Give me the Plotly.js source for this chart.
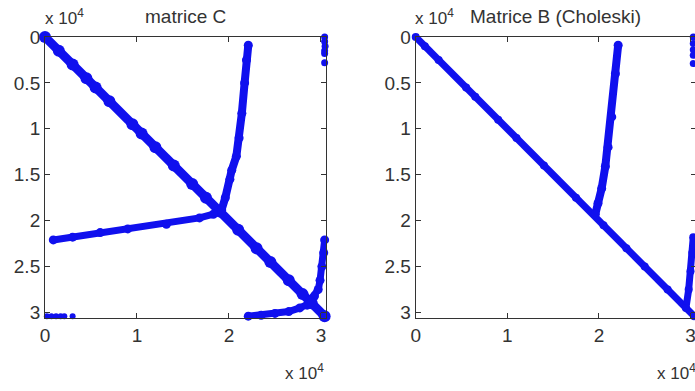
<!DOCTYPE html>
<html>
<head>
<meta charset="utf-8">
<script src="https://cdn.plot.ly/plotly-3.0.1.min.js"></script>
<style>
  body { margin: 0; overflow: hidden; background: #fff; }
  #chart { width: 700px; height: 391px; }
</style>
</head>
<body>
<div id="chart"></div>
<script>
// matrix size and tick labels (x 10^4)
const n = 30600;
const xTickVals = [0, 10000, 20000, 30000];
const xTickText = ['0', '1', '2', '3'];
const yTickVals = [0, 5000, 10000, 15000, 20000, 25000, 30000];
const yTickText = ['0', '0.5', '1', '1.5', '2', '2.5', '3'];

// --- matrice C : nonzero structure (column, row) ---
const cDiagCol = [0, 1500, 3000, 4500, 5500, 7000, 9500, 10500, 12000, 14000, 16000, 17500, 19000, 21000, 23000, 24500, 26500, 28000, 29000, 30400];
const cDiagRow = [0, 1500, 3000, 4500, 5500, 7000, 9500, 10500, 12000, 14000, 16000, 17500, 19000, 21000, 23000, 24500, 26500, 28000, 29000, 30400];
const cVertCol = [22100, 21900, 21700, 21400, 21100, 20800, 20300, 20100, 19600, 19200];
const cVertRow = [900, 2500, 5000, 8300, 11000, 13000, 14500, 15500, 17500, 18800];
const cHorizCol = [900, 3000, 6000, 9000, 13200, 16800, 18300, 19200];
const cHorizRow = [22100, 21800, 21300, 20900, 20400, 19700, 19300, 18900];
const cTopCol = [30400, 30400, 30450, 30400, 30400, 30400];
const cTopRow = [0, 500, 1000, 1500, 1800, 2800];
const cSideCol = [30400, 30300, 30100, 29900, 29700, 29300, 28800];
const cSideRow = [22100, 23500, 25000, 26500, 27500, 28200, 28700];
const cLowCol = [22100, 23500, 25000, 26500, 27700, 28500, 29000];
const cLowRow = [30400, 30300, 30100, 29900, 29500, 29200, 28900];
const cCornerCol = [200, 700, 1200, 1700, 2100, 3000];
const cCornerRow = [30400, 30400, 30400, 30400, 30400, 30400];

// --- Matrice B (Choleski) ---
const bDiagCol = [0, 1000, 2500, 5500, 6500, 9000, 11000, 14000, 17500, 20500, 23000, 25000, 27500, 30400];
const bDiagRow = [0, 1000, 2500, 5500, 6500, 9000, 11000, 14000, 17500, 20500, 23000, 25000, 27500, 30400];
const bVertCol = [22100, 21800, 21400, 21000, 20700, 20300, 19900, 19600];
const bVertRow = [900, 4000, 8700, 12000, 14100, 16500, 18100, 19300];
const bTopCol = [30300, 30300, 30300, 30300, 30300];
const bTopRow = [0, 700, 1400, 2000, 2900];
const bSideCol = [30300, 30200, 30000, 29800, 29500];
const bSideRow = [21800, 23500, 25500, 27500, 29500];

const blue = '#1010ee';
const font = 'Liberation Sans, Arial, sans-serif';

function band(cols, rows, w, m, ax) {
  return {
    x: cols, y: rows, xaxis: ax[0], yaxis: ax[1],
    mode: 'lines+markers',
    line: { color: blue, width: w },
    marker: { color: blue, size: m },
    cliponaxis: false, hoverinfo: 'skip',
  };
}
function dots(cols, rows, s, ax) {
  return {
    x: cols, y: rows, xaxis: ax[0], yaxis: ax[1],
    mode: 'markers', marker: { color: blue, size: s },
    cliponaxis: false, hoverinfo: 'skip',
  };
}

const L = ['x', 'y'], R = ['x2', 'y2'];
const data = [
  band(cDiagCol, cDiagRow, 9, 12, L),
  band(cVertCol, cVertRow, 8, 9, L),
  band(cHorizCol, cHorizRow, 7, 9, L),
  dots(cTopCol, cTopRow, 7, L),
  band(cSideCol, cSideRow, 7, 9, L),
  band(cLowCol, cLowRow, 7, 9, L),
  dots(cCornerCol, cCornerRow, 6, L),
  band(bDiagCol, bDiagRow, 7, 8, R),
  band(bVertCol, bVertRow, 8, 9, R),
  dots(bTopCol, bTopRow, 7, R),
  band(bSideCol, bSideRow, 7, 8, R),
];

const xaxisBase = {
  range: [0, n], tickvals: xTickVals, ticktext: xTickText,
  ticks: 'inside', ticklen: 5, tickcolor: '#333', mirror: 'ticks',
  showline: true, linecolor: '#333', linewidth: 1,
  showgrid: false, zeroline: false,
  tickfont: { family: font, size: 19, color: '#333' },
  fixedrange: true,
};
const yaxisBase = Object.assign({}, xaxisBase, {
  range: [n, 0], tickvals: yTickVals, ticktext: yTickText,
  domain: [0.1867, 0.9054],
});

const ann = (text, x, y, xa, size) => ({
  text: text, x: x, y: y, xref: 'paper', yref: 'paper',
  xanchor: xa, yanchor: 'middle', showarrow: false,
  font: { family: font, size: size, color: '#333' },
});

const layout = {
  width: 700, height: 391,
  margin: { l: 0, r: 0, t: 0, b: 0 },
  paper_bgcolor: '#fff', plot_bgcolor: '#fff',
  showlegend: false,
  xaxis: Object.assign({}, xaxisBase, { domain: [0.0643, 0.4664], anchor: 'y' }),
  yaxis: Object.assign({}, yaxisBase, { anchor: 'x' }),
  xaxis2: Object.assign({}, xaxisBase, { domain: [0.5939, 0.9943], anchor: 'y2' }),
  yaxis2: Object.assign({}, yaxisBase, { anchor: 'x2' }),
  annotations: [
    ann('matrice C', 185 / 700, 1 - 17 / 391, 'center', 19),
    ann('Matrice B (Choleski)', 555 / 700, 1 - 17 / 391, 'center', 19),
    ann('x 10<sup>4</sup>', 43 / 700, 1 - 17 / 391, 'left', 17),
    ann('x 10<sup>4</sup>', 413 / 700, 1 - 17 / 391, 'left', 17),
    ann('x 10<sup>4</sup>', 326 / 700, 1 - 372 / 391, 'right', 17),
    ann('x 10<sup>4</sup>', 698 / 700, 1 - 372 / 391, 'right', 17),
  ],
};

Plotly.newPlot('chart', data, layout, { displayModeBar: false, staticPlot: true });
</script>
</body>
</html>
